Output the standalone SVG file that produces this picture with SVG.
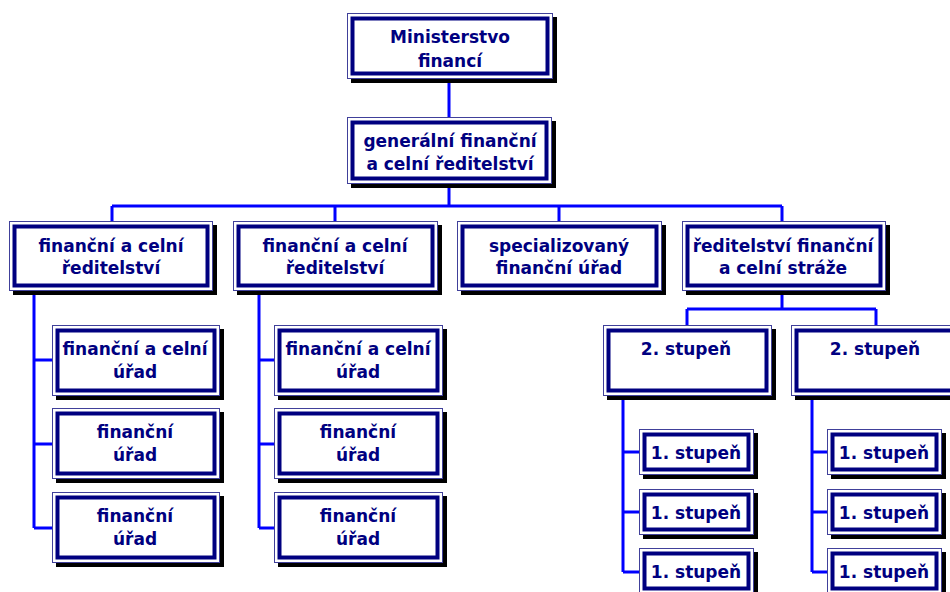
<svg xmlns="http://www.w3.org/2000/svg" width="950" height="592" viewBox="0 0 950 592">
<style>
.sh{fill:#000}
.o{fill:#fff;stroke:#40409a;stroke-width:1}
.i{fill:none;stroke:#000080;stroke-width:4}
.t{font-family:"DejaVu Sans",Verdana,sans-serif;font-weight:bold;font-size:17px;fill:#000080;text-anchor:middle}
.c{fill:none;stroke:#0000ff;stroke-width:3}
</style>
<rect width="950" height="592" fill="#fff"/>
<g id="connectors">
<path class="c" d="M449 79V117M449 184V206M112 206H782M112 206V221M335 206V221M559 206V221M782 206V221"/>
<path class="c" d="M34 291V528M34 360H52M34 444H52M34 528H52"/>
<path class="c" d="M259 292V528M259 360H274M259 444H274M259 528H274"/>
<path class="c" d="M782 291V309M687 309H876M687 309V325M876 309V325"/>
<path class="c" d="M623 396V572M623 452H639M623 512H639M623 572H639"/>
<path class="c" d="M812 396V572M812 452H827M812 512H827M812 572H827"/>
</g>
<g id="ministerstvo">
<rect class="sh" x="351" y="17" width="206" height="66"/><rect class="o" x="347.5" y="13.5" width="205" height="65"/><rect class="i" x="352.5" y="18.5" width="195" height="55"/>
<text class="t" x="450" y="43">Ministerstvo</text><text class="t" x="450" y="67">financí</text>
</g>
<g id="gfcr">
<rect class="sh" x="351" y="121" width="205" height="67"/><rect class="o" x="347.5" y="117.5" width="204" height="66"/><rect class="i" x="352.5" y="122.5" width="194" height="56"/>
<text class="t" x="450" y="147">generální finanční</text><text class="t" x="450" y="170">a celní ředitelství</text>
</g>
<g id="fcr1">
<rect class="sh" x="13" y="225" width="204" height="70"/><rect class="o" x="9.5" y="221.5" width="203" height="69"/><rect class="i" x="14.5" y="226.5" width="193" height="59"/>
<text class="t" x="111" y="252">finanční a celní</text><text class="t" x="111" y="274">ředitelství</text>
</g>
<g id="fcr2">
<rect class="sh" x="237" y="225" width="205" height="70"/><rect class="o" x="233.5" y="221.5" width="204" height="69"/><rect class="i" x="238.5" y="226.5" width="194" height="59"/>
<text class="t" x="335" y="252">finanční a celní</text><text class="t" x="335" y="274">ředitelství</text>
</g>
<g id="sfu">
<rect class="sh" x="461" y="225" width="205" height="70"/><rect class="o" x="457.5" y="221.5" width="204" height="69"/><rect class="i" x="462.5" y="226.5" width="194" height="59"/>
<text class="t" x="559" y="252">specializovaný</text><text class="t" x="559" y="274">finanční úřad</text>
</g>
<g id="rfcs">
<rect class="sh" x="686" y="225" width="204" height="70"/><rect class="o" x="682.5" y="221.5" width="203" height="69"/><rect class="i" x="687.5" y="226.5" width="193" height="59"/>
<text class="t" x="783" y="252">ředitelství finanční</text><text class="t" x="783" y="274">a celní stráže</text>
</g>
<g id="fcu1">
<rect class="sh" x="56" y="329" width="168" height="71"/><rect class="o" x="52.5" y="325.5" width="167" height="70"/><rect class="i" x="57.5" y="330.5" width="157" height="60"/>
<text class="t" x="135" y="355">finanční a celní</text><text class="t" x="135" y="378">úřad</text>
</g>
<g id="fu1a">
<rect class="sh" x="56" y="412" width="168" height="71"/><rect class="o" x="52.5" y="408.5" width="167" height="70"/><rect class="i" x="57.5" y="413.5" width="157" height="60"/>
<text class="t" x="135" y="438">finanční</text><text class="t" x="135" y="461">úřad</text>
</g>
<g id="fu1b">
<rect class="sh" x="56" y="496" width="168" height="71"/><rect class="o" x="52.5" y="492.5" width="167" height="70"/><rect class="i" x="57.5" y="497.5" width="157" height="60"/>
<text class="t" x="135" y="522">finanční</text><text class="t" x="135" y="545">úřad</text>
</g>
<g id="fcu2">
<rect class="sh" x="278" y="329" width="169" height="71"/><rect class="o" x="274.5" y="325.5" width="168" height="70"/><rect class="i" x="279.5" y="330.5" width="158" height="60"/>
<text class="t" x="358" y="355">finanční a celní</text><text class="t" x="358" y="378">úřad</text>
</g>
<g id="fu2a">
<rect class="sh" x="278" y="412" width="169" height="71"/><rect class="o" x="274.5" y="408.5" width="168" height="70"/><rect class="i" x="279.5" y="413.5" width="158" height="60"/>
<text class="t" x="358" y="438">finanční</text><text class="t" x="358" y="461">úřad</text>
</g>
<g id="fu2b">
<rect class="sh" x="278" y="496" width="169" height="71"/><rect class="o" x="274.5" y="492.5" width="168" height="70"/><rect class="i" x="279.5" y="497.5" width="158" height="60"/>
<text class="t" x="358" y="522">finanční</text><text class="t" x="358" y="545">úřad</text>
</g>
<g id="st2a">
<rect class="sh" x="607" y="329" width="169" height="71"/><rect class="o" x="603.5" y="325.5" width="168" height="70"/><rect class="i" x="608.5" y="330.5" width="158" height="60"/>
<text class="t" x="686" y="355">2. stupeň</text>
</g>
<g id="st2b">
<rect class="sh" x="795" y="329" width="169" height="71"/><rect class="o" x="791.5" y="325.5" width="168" height="70"/><rect class="i" x="796.5" y="330.5" width="158" height="60"/>
<text class="t" x="875" y="355">2. stupeň</text>
</g>
<g id="st1a1">
<rect class="sh" x="643" y="433" width="115" height="46"/><rect class="o" x="639.5" y="429.5" width="114" height="45"/><rect class="i" x="644.5" y="434.5" width="104" height="35"/>
<text class="t" x="696" y="459">1. stupeň</text>
</g>
<g id="st1a2">
<rect class="sh" x="643" y="493" width="115" height="46"/><rect class="o" x="639.5" y="489.5" width="114" height="45"/><rect class="i" x="644.5" y="494.5" width="104" height="35"/>
<text class="t" x="696" y="519">1. stupeň</text>
</g>
<g id="st1a3">
<rect class="sh" x="643" y="552" width="115" height="46"/><rect class="o" x="639.5" y="548.5" width="114" height="45"/><rect class="i" x="644.5" y="553.5" width="104" height="35"/>
<text class="t" x="696" y="578">1. stupeň</text>
</g>
<g id="st1b1">
<rect class="sh" x="831" y="433" width="115" height="46"/><rect class="o" x="827.5" y="429.5" width="114" height="45"/><rect class="i" x="832.5" y="434.5" width="104" height="35"/>
<text class="t" x="884" y="459">1. stupeň</text>
</g>
<g id="st1b2">
<rect class="sh" x="831" y="493" width="115" height="46"/><rect class="o" x="827.5" y="489.5" width="114" height="45"/><rect class="i" x="832.5" y="494.5" width="104" height="35"/>
<text class="t" x="884" y="519">1. stupeň</text>
</g>
<g id="st1b3">
<rect class="sh" x="831" y="552" width="115" height="46"/><rect class="o" x="827.5" y="548.5" width="114" height="45"/><rect class="i" x="832.5" y="553.5" width="104" height="35"/>
<text class="t" x="884" y="578">1. stupeň</text>
</g>
</svg>
